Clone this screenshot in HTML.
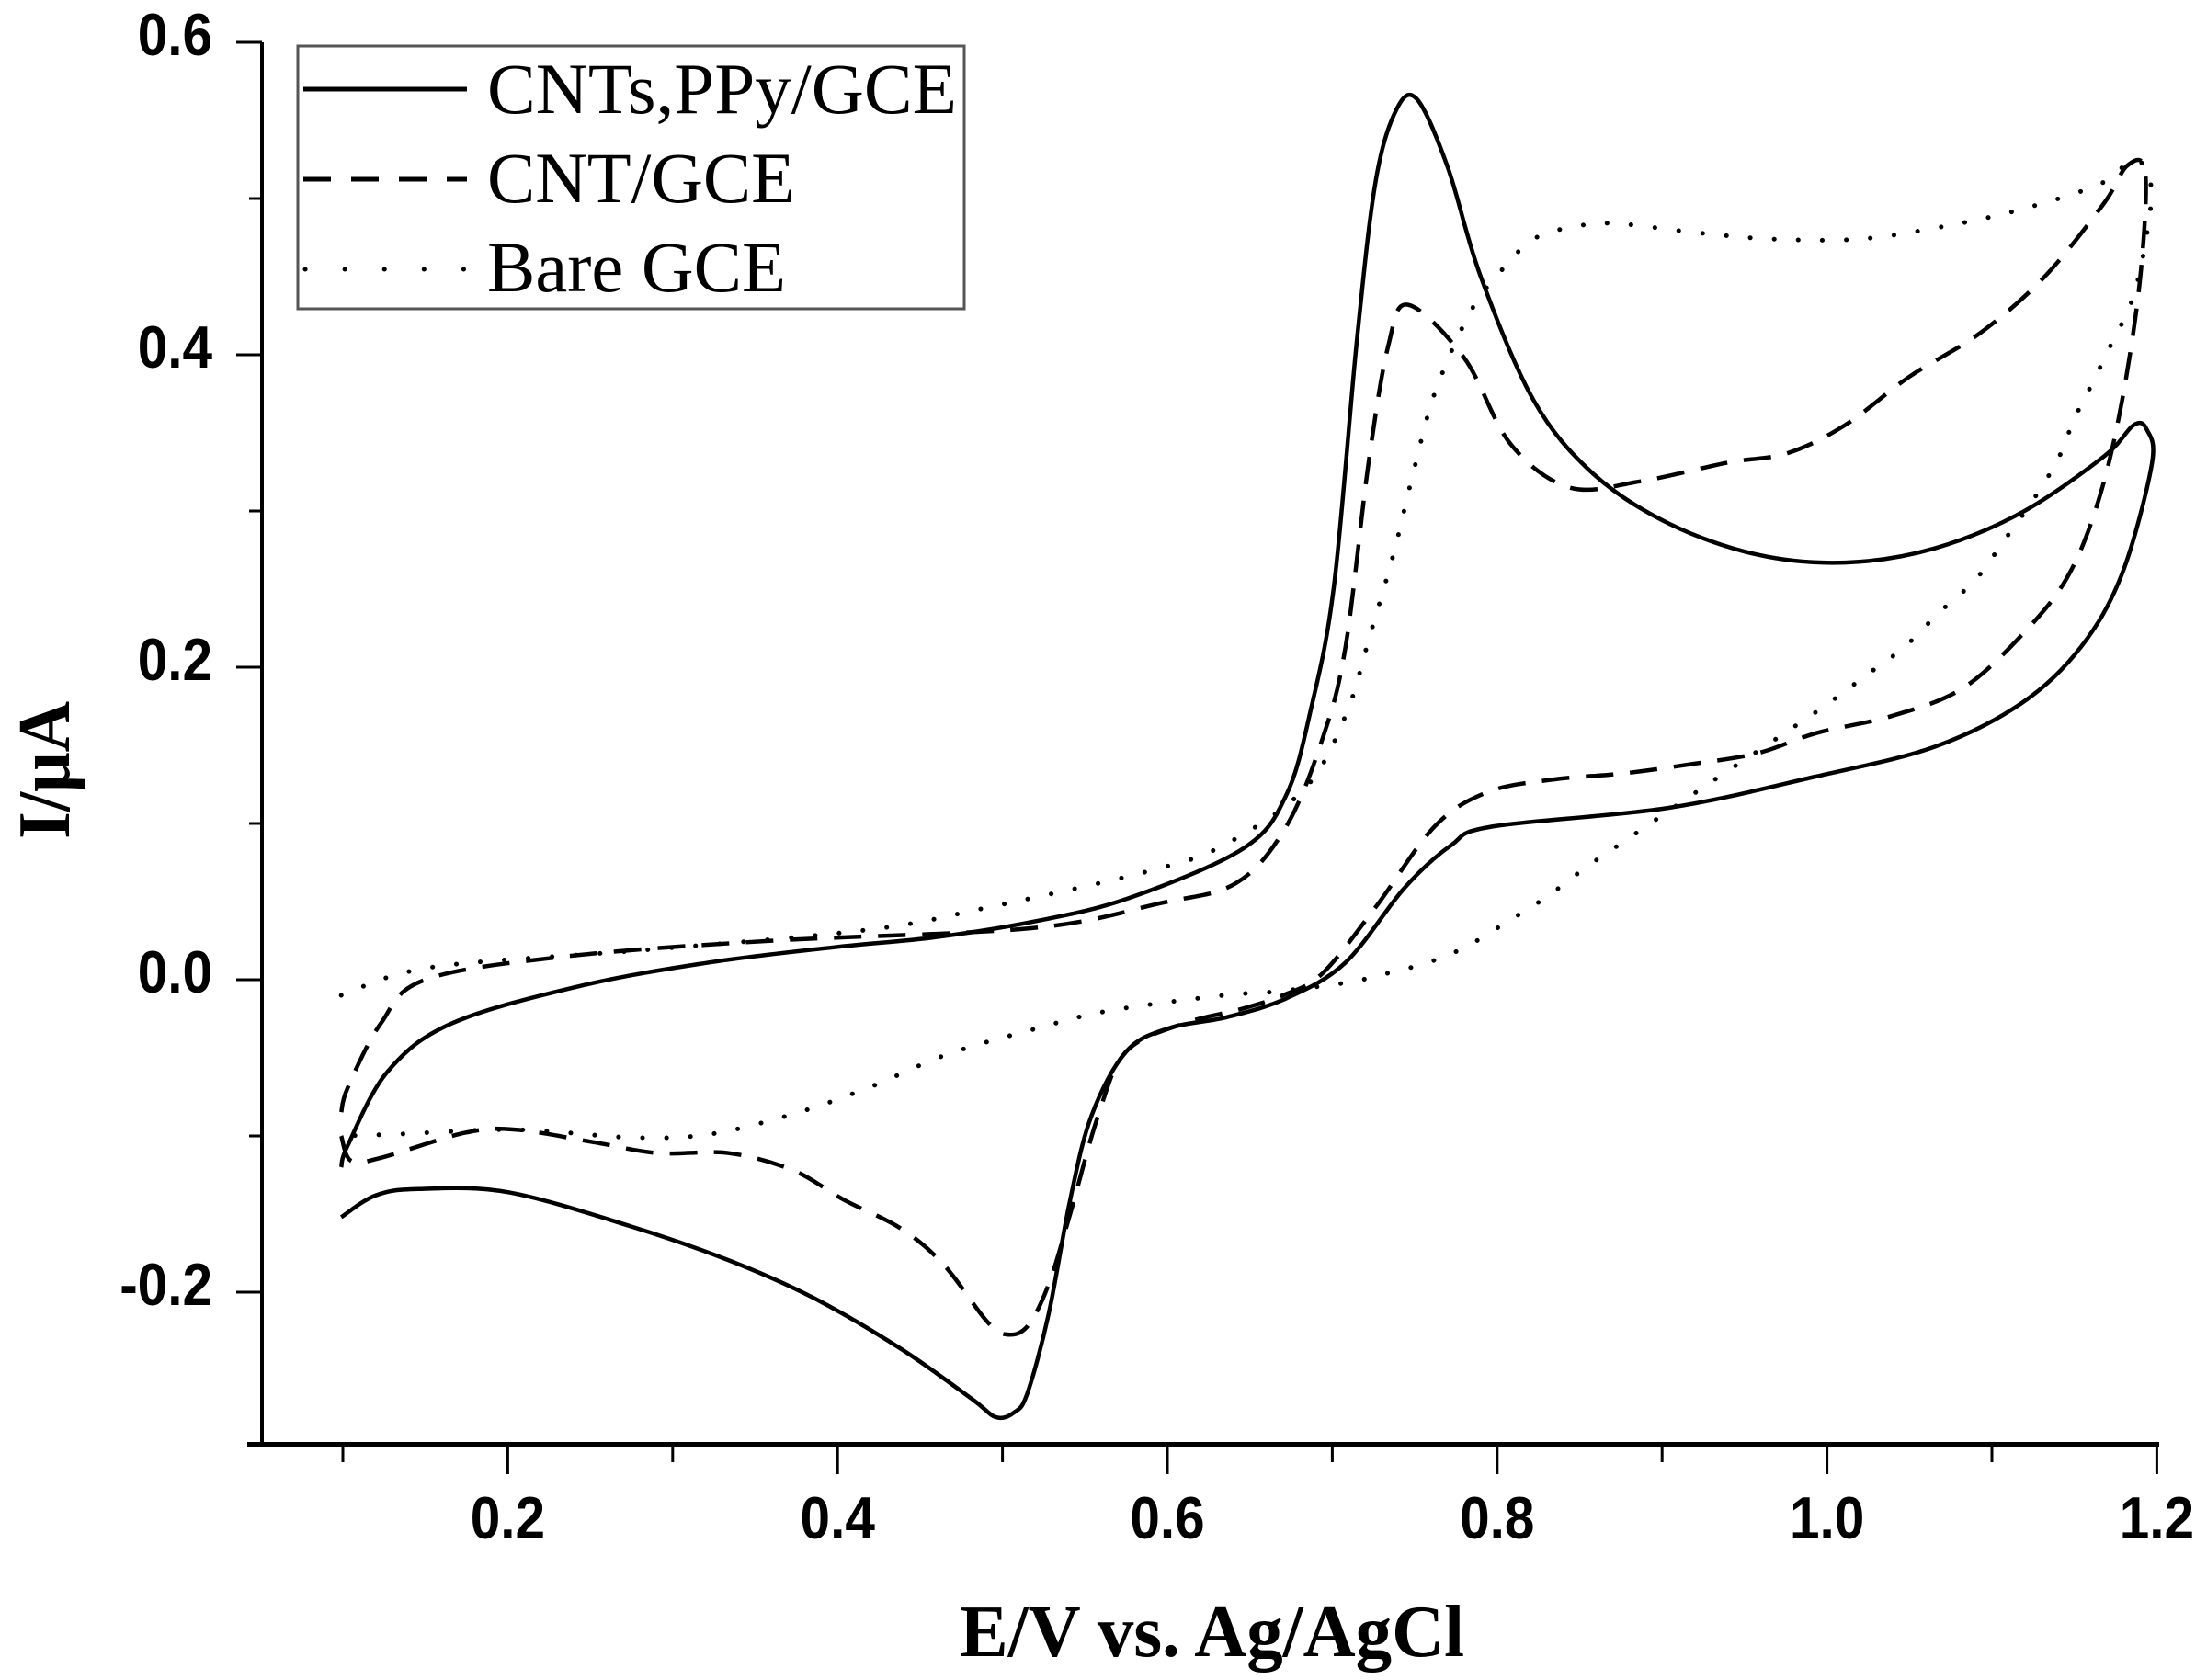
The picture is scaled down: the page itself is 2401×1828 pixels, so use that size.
<!DOCTYPE html>
<html><head><meta charset="utf-8"><style>
html,body{margin:0;padding:0;background:#fff;}
svg{display:block;}
.tick{font-family:"Liberation Sans",Arial,sans-serif;font-weight:bold;font-size:65px;fill:#000;}
.leg{font-family:"Liberation Serif","Times New Roman",serif;font-size:78px;fill:#000;}
.ttl{font-family:"Liberation Serif","Times New Roman",serif;font-weight:bold;font-size:80px;fill:#000;}
</style></head><body>
<svg id="chart" width="2401" height="1828" viewBox="0 0 2401 1828" xmlns="http://www.w3.org/2000/svg">
<g id="axes"></g>
<g id="series"></g>
<g id="legend">
  <rect x="324" y="50" width="725" height="286" fill="#fff" stroke="#555" stroke-width="3"/>
  <line x1="330" y1="97" x2="508" y2="97" stroke="#000" stroke-width="5"/>
  <text class="leg" x="530" y="123" textLength="511" lengthAdjust="spacingAndGlyphs">CNTs,PPy/GCE</text>
  <line x1="330" y1="195" x2="508" y2="195" stroke="#000" stroke-width="5" stroke-dasharray="30,22"/>
  <text class="leg" x="530" y="220" textLength="335" lengthAdjust="spacingAndGlyphs">CNT/GCE</text>
  <line x1="332" y1="293" x2="508" y2="293" stroke="#000" stroke-width="5" stroke-linecap="round" stroke-dasharray="0.1,43"/>
  <text class="leg" x="530" y="317" textLength="325" lengthAdjust="spacingAndGlyphs">Bare GCE</text>
</g>
<text class="ttl" x="1044" y="1802" textLength="549" lengthAdjust="spacingAndGlyphs">E/V vs. Ag/AgCl</text>
<text class="ttl" x="0" y="0" textLength="150" lengthAdjust="spacingAndGlyphs" transform="translate(75,913) rotate(-90)">I/μA</text>
</svg>
<script>
const xTicks=[0.2,0.4,0.6,0.8,1.0,1.2];
const xTickLabels=["0.2","0.4","0.6","0.8","1.0","1.2"];
const xMinor=[0.1,0.3,0.5,0.7,0.9,1.1];
const yTicks=[-0.2,0.0,0.2,0.4,0.6];
const yTickLabels=["-0.2","0.0","0.2","0.4","0.6"];
const yMinor=[-0.1,0.1,0.3,0.5];

const solidE=[0.099,0.120,0.146,0.2,0.275,0.335,0.386,0.438,0.481,0.496,0.507,0.515,0.528,0.541,0.554,0.575,0.601,0.636,0.672,0.708,0.744,0.772,0.797,0.904,0.993,1.065,1.118,1.154,1.179,1.197,1.194,1.186,1.168,1.118,1.065,1.011,0.958,0.904,0.858,0.822,0.790,0.770,0.751,0.738,0.726,0.715,0.701,0.687,0.672,0.646,0.576,0.518,0.458,0.400,0.322,0.244,0.166,0.127,0.103,0.099];
const solidI=[-0.152,-0.138,-0.134,-0.136,-0.158,-0.180,-0.204,-0.236,-0.268,-0.280,-0.277,-0.265,-0.214,-0.141,-0.087,-0.046,-0.031,-0.024,-0.012,0.011,0.059,0.086,0.098,0.110,0.130,0.149,0.177,0.213,0.260,0.330,0.352,0.355,0.335,0.299,0.276,0.267,0.272,0.292,0.324,0.371,0.450,0.520,0.564,0.555,0.509,0.410,0.252,0.173,0.118,0.084,0.052,0.037,0.027,0.021,0.011,-0.004,-0.028,-0.059,-0.106,-0.120];

const dashE=[0.099,0.105,0.123,0.174,0.205,0.252,0.291,0.334,0.373,0.404,0.438,0.464,0.490,0.502,0.515,0.528,0.541,0.558,0.575,0.610,0.644,0.670,0.694,0.726,0.762,0.794,0.833,0.876,0.918,0.958,0.994,1.040,1.083,1.122,1.147,1.165,1.179,1.190,1.193,1.182,1.168,1.132,1.093,1.050,1.011,0.976,0.940,0.887,0.844,0.808,0.780,0.746,0.734,0.722,0.708,0.694,0.672,0.642,0.596,0.518,0.361,0.236,0.150,0.123,0.103,0.099];
const dashI=[-0.100,-0.116,-0.114,-0.098,-0.096,-0.104,-0.111,-0.111,-0.122,-0.141,-0.159,-0.182,-0.218,-0.227,-0.222,-0.195,-0.150,-0.087,-0.046,-0.028,-0.019,-0.010,0.004,0.046,0.098,0.120,0.128,0.132,0.138,0.145,0.158,0.169,0.187,0.225,0.260,0.308,0.371,0.450,0.517,0.521,0.497,0.450,0.414,0.386,0.355,0.337,0.331,0.319,0.315,0.343,0.398,0.432,0.406,0.331,0.213,0.154,0.098,0.062,0.049,0.033,0.025,0.015,0.000,-0.028,-0.069,-0.085];

const dotE=[0.099,0.154,0.283,0.419,0.490,0.587,0.634,0.683,0.708,0.723,0.737,0.749,0.762,0.783,0.801,0.822,0.847,0.872,0.922,0.968,1.019,1.065,1.114,1.165,1.186,1.196,1.195,1.186,1.172,1.161,1.150,1.140,1.125,1.108,1.090,1.068,1.047,1.024,1.001,0.976,0.929,0.879,0.854,0.830,0.806,0.781,0.758,0.733,0.708,0.662,0.634,0.564,0.518,0.466,0.419,0.373,0.322,0.275,0.205,0.130,0.099];
const dotI=[-0.010,0.008,0.019,0.032,0.046,0.069,0.086,0.122,0.169,0.221,0.272,0.324,0.375,0.426,0.452,0.474,0.482,0.484,0.478,0.474,0.474,0.481,0.492,0.509,0.525,0.511,0.484,0.438,0.406,0.382,0.359,0.333,0.307,0.282,0.256,0.235,0.213,0.195,0.177,0.159,0.126,0.090,0.072,0.053,0.037,0.021,0.011,0.004,-0.002,-0.008,-0.010,-0.020,-0.032,-0.048,-0.069,-0.086,-0.099,-0.101,-0.096,-0.099,-0.100];

const X0=285, X1=2347, Y0=46, Y1=1572;
function xs(v){return 373+(v-0.1)*1794;}
function ys(v){return 1066-v*1700;}
const NS="http://www.w3.org/2000/svg";
function mk(tag,attrs,parent){const e=document.createElementNS(NS,tag);for(const k in attrs)e.setAttribute(k,attrs[k]);parent.appendChild(e);return e;}
function squeeze(t){const w=t.getComputedTextLength();t.setAttribute('textLength',(w*0.9).toFixed(1));t.setAttribute('lengthAdjust','spacingAndGlyphs');}

const axes=document.getElementById('axes');
let el=mk('line',{x1:X0,y1:Y0,x2:X0,y2:Y1+2,stroke:'#000','stroke-width':4},axes);


el=mk('line',{x1:X0-16,y1:Y1,x2:X1+2,y2:Y1,stroke:'#000','stroke-width':6},axes);


xTicks.forEach((v,i)=>{
  const t=mk('line',{x1:xs(v),y1:Y1,x2:xs(v),y2:Y1+32,stroke:'#000','stroke-width':3},axes);
  
  
  const l=mk('text',{x:xs(v),y:1674,'text-anchor':'middle',class:'tick'},axes);
  l.textContent=xTickLabels[i];
  
  
  squeeze(l);
});
xMinor.forEach(v=>{
  const t=mk('line',{x1:xs(v),y1:Y1,x2:xs(v),y2:Y1+19,stroke:'#000','stroke-width':3},axes);
  
  
});
yTicks.forEach((v,i)=>{
  const t=mk('line',{x1:X0-28,y1:ys(v),x2:X0,y2:ys(v),stroke:'#000','stroke-width':3},axes);
  
  
  const l=mk('text',{x:X0-54,y:ys(v)+14,'text-anchor':'end',class:'tick'},axes);
  l.textContent=yTickLabels[i];
  
  
  squeeze(l);
});
yMinor.forEach(v=>{
  const t=mk('line',{x1:X0-14,y1:ys(v),x2:X0,y2:ys(v),stroke:'#000','stroke-width':3},axes);
  
  
});

function smooth(E,I){
  const p=E.map((e,i)=>[xs(e),ys(I[i])]);
  let d='M'+p[0][0].toFixed(1)+','+p[0][1].toFixed(1);
  for(let i=0;i<p.length-1;i++){
    const a=p[Math.max(0,i-1)],b=p[i],c=p[i+1],n=p[Math.min(p.length-1,i+2)];
    const c1=[b[0]+(c[0]-a[0])/6,b[1]+(c[1]-a[1])/6];
    const c2=[c[0]-(n[0]-b[0])/6,c[1]-(n[1]-b[1])/6];
    d+=' C'+c1[0].toFixed(1)+','+c1[1].toFixed(1)+' '+c2[0].toFixed(1)+','+c2[1].toFixed(1)+' '+c[0].toFixed(1)+','+c[1].toFixed(1);
  }
  return d;
}
const series=document.getElementById('series');
let s=mk('path',{d:smooth(solidE,solidI),fill:'none',stroke:'#000','stroke-width':4.5,'stroke-linejoin':'round'},series);


s=mk('path',{d:smooth(dashE,dashI),fill:'none',stroke:'#000','stroke-width':4.5,'stroke-dasharray':'30,18'},series);


s=mk('path',{d:smooth(dotE,dotI),fill:'none',stroke:'#000','stroke-width':5,'stroke-linecap':'round','stroke-dasharray':'0.1,26'},series);


</script>
</body></html>
